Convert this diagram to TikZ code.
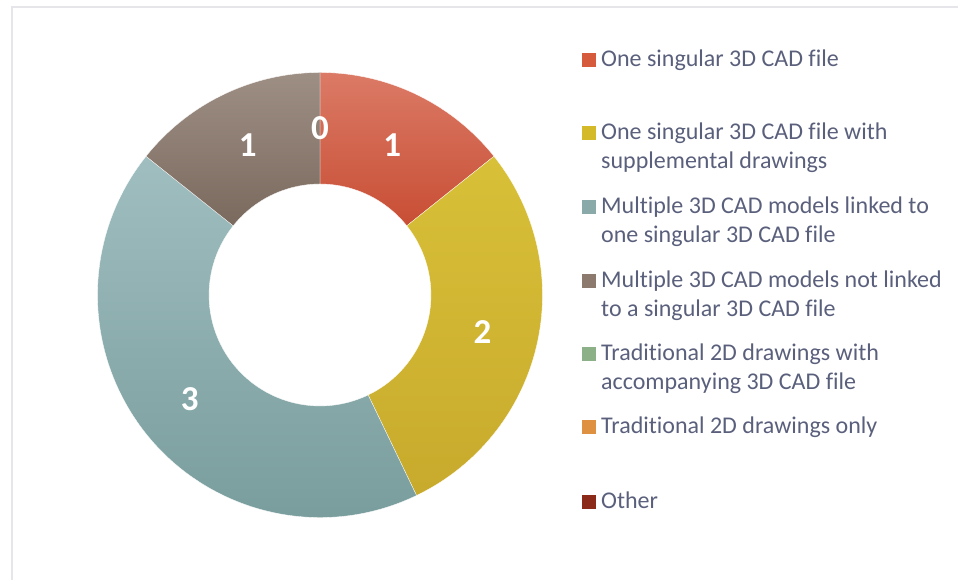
\documentclass[tikz,border=0pt]{standalone}
\usepackage{fontspec}
\setmainfont{Carlito}[Ligatures=NoCommon]
\usetikzlibrary{calc, positioning}
\definecolor{redA}{RGB}{219,122,102}
\definecolor{redB}{RGB}{200,78,52}
\definecolor{yelA}{RGB}{216,192,56}
\definecolor{yelB}{RGB}{200,170,44}
\definecolor{tealA}{RGB}{160,190,192}
\definecolor{tealB}{RGB}{118,154,154}
\definecolor{brnA}{RGB}{158,143,133}
\definecolor{brnB}{RGB}{122,105,93}
\definecolor{keyred}{RGB}{214,90,60}
\definecolor{keyyel}{RGB}{212,185,40}
\definecolor{keyteal}{RGB}{138,170,170}
\definecolor{keybrn}{RGB}{140,122,110}
\definecolor{keygrn}{RGB}{140,176,136}
\definecolor{keyorg}{RGB}{222,145,65}
\definecolor{keydred}{RGB}{140,42,26}
\definecolor{legendtext}{RGB}{90,96,124}
\definecolor{framegray}{RGB}{230,230,234}

\begin{document}
\begin{tikzpicture}[x=1pt, y=1pt,% styles used in the chart
slice/.style = {draw=white, line width=0.3pt},
  num/.style = {text=white, inner sep=0pt,
                font=\fontsize{35}{35}\selectfont\bfseries},
  key/.style = {minimum size=14pt, inner sep=0pt, outer sep=0pt},
entry/.style = {anchor=base west, align=left, inner sep=0pt,
                text=legendtext, font=\fontsize{24}{29}\selectfont}
                    ]
    \useasboundingbox (0,0) rectangle (958,580);
    % chart frame
    \draw[framegray, line width=2pt] (11.5,0) -- (11.5,573) -- (958,573);

    \def\Rout{222.5}
    \def\Rin{111}
    \coordinate (C) at (320,285);

    % donut slices (1, 2, 3, 1 of 7)
    \path[slice, shading=axis, top color=redA, bottom color=redB]
        ($(C)+(90:\Rout)$) arc[start angle=90, end angle=38.57, radius=\Rout]
        -- ($(C)+(38.57:\Rin)$) arc[start angle=38.57, end angle=90, radius=\Rin] -- cycle;
    \path[slice, shading=axis, top color=yelA, bottom color=yelB]
        ($(C)+(38.57:\Rout)$) arc[start angle=38.57, end angle=-64.29, radius=\Rout]
        -- ($(C)+(-64.29:\Rin)$) arc[start angle=-64.29, end angle=38.57, radius=\Rin] -- cycle;
    \path[slice, shading=axis, top color=tealA, bottom color=tealB]
        ($(C)+(-64.29:\Rout)$) arc[start angle=-64.29, end angle=-218.57, radius=\Rout]
        -- ($(C)+(-218.57:\Rin)$) arc[start angle=-218.57, end angle=-64.29, radius=\Rin] -- cycle;
    \path[slice, shading=axis, top color=brnA, bottom color=brnB]
        ($(C)+(141.43:\Rout)$) arc[start angle=141.43, end angle=90, radius=\Rout]
        -- ($(C)+(90:\Rin)$) arc[start angle=90, end angle=141.43, radius=\Rin] -- cycle;

    % data labels
    \node[num] (n1) at ($(C)+(64.29:166.75)$)   {1};
    \node[num] (n2) at ($(C)+(-12.86:166.75)$)  {2};
    \node[num] (n3) at ($(C)+(-141.43:166.75)$) {3};
    \node[num] (n4) at ($(C)+(115.71:166.75)$)  {1};
    \node[num] (n0) at ($(C)+(90:166.75)$)      {0};

    % legend (base = last line of each entry)
    \node[key, fill=keyred]  (k1) at (589,520) {};
    \node[key, fill=keyyel]  (k2) at (589,447) {};
    \node[key, fill=keyteal] (k3) at (589,373) {};
    \node[key, fill=keybrn]  (k4) at (589,299) {};
    \node[key, fill=keygrn]  (k5) at (589,226) {};
    \node[key, fill=keyorg]  (k6) at (589,153) {};
    \node[key, fill=keydred] (k7) at (589,78)  {};

    \node[entry] (t1) at (601,513) {One singular 3D CAD file};
    \node[entry] (t2) at (601,411) {One singular 3D CAD file with\\supplemental drawings};
    \node[entry] (t3) at (601,337) {Multiple 3D CAD models linked to\\one singular 3D CAD file};
    \node[entry] (t4) at (601,263) {Multiple 3D CAD models not linked\\to a singular 3D CAD file};
    \node[entry] (t5) at (601,190) {Traditional 2D drawings with\\accompanying 3D CAD file};
    \node[entry] (t6) at (601,146) {Traditional 2D drawings only};
    \node[entry] (t7) at (601,71)  {Other};
\end{tikzpicture}
\end{document}
